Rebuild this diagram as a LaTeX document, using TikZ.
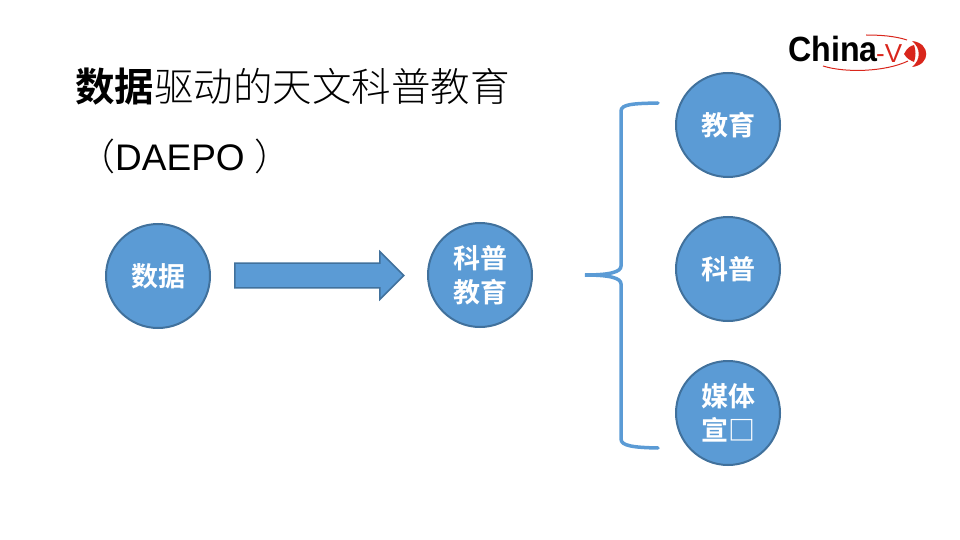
\documentclass[tikz,border=0pt]{standalone}
\usepackage{fontspec}
\usepackage{tikz}
\usetikzlibrary{shapes.arrows, positioning}
\setmainfont{Liberation Sans}
\newfontfamily\cjklight{Noto Sans CJK SC Light}[BoldFont={Noto Sans CJK SC Bold}]
\newfontfamily\cjkbold{Noto Sans CJK SC Bold}
\definecolor{boxblue}{HTML}{5B9BD5}
\definecolor{boxedge}{HTML}{41719C}
\definecolor{logored}{HTML}{D9261C}
\tikzset {
    topic/.style = {
        draw = boxedge,
        fill = boxblue,
        shape = circle,
        line width=2pt,
        minimum size=104pt,
        inner sep=0pt,
        align=center,
        text=white,
        font={\cjkbold\fontsize{27}{34}\selectfont}
    },
    flow/.style = {
        draw = boxedge,
        fill = boxblue,
        shape = single arrow,
        line width=1.5pt,
        minimum width=47pt,
        minimum height=169pt,
        single arrow head extend=11.5pt,
        single arrow head indent=0pt,
        inner xsep=0pt,
        inner ysep=11.6pt
    },
    bracket/.style = {
        draw = boxblue,
        line width=3.5pt,
        line cap=round
    },
    swoosh/.style = {
        draw = logored,
        line width=1pt
    }
}
\begin{document}
\begin{tikzpicture}[x=1pt, y=-1pt, node distance=144pt, on grid]
    \useasboundingbox (0,0) rectangle (960,540);

    % Heading, two lines
    \node [anchor=west, inner sep=0pt, font={\cjklight\fontsize{39.5}{44}\selectfont}]
        at (75,87) (heading) {\textbf{数据}驱动的天文科普教育};
    \node [anchor=west, inner sep=0pt, font={\fontsize{37}{40}\selectfont}]
        at (78,156) (daepo) {{\cjklight （}DAEPO\hspace{10pt}{\cjklight ）}};

    % Left row : data, arrow, outreach
    \node [topic] at (158,276)                     (data)     {数据};
    \node [flow, anchor=west] at (234,275.5)       (arrow)    {};
    \node [topic] at (480,275)                     (outreach) {科普\\教育};

    % Right column
    \node [topic] at (728,125)                     (edu)      {教育};
    \node [topic, below=of edu]                    (popsci)   {科普};
    \node [topic, below=of popsci]                 (media)    {媒体\\宣□};

    % Brace ends and tip
    \coordinate (bracetop)    at (658,103);
    \coordinate (bracebottom) at (658,448);
    \coordinate (bracetip)    at (585,275);

    \draw [bracket] (bracetop)
        .. controls (634,103.5) and (621,104) .. (621,111)
        -- (621,266)
        .. controls (621,272) and (610,275) .. (bracetip)
        .. controls (610,275) and (621,278) .. (621,284)
        -- (621,439)
        .. controls (621,446) and (634,447.5) .. (bracebottom);

    % Logo at the top right
    \node [anchor=base west, inner sep=0pt, xscale=0.92, font={\bfseries\fontsize{35}{36}\selectfont}]
        at (788,62) (logotext) {China};
    \node [anchor=base west, inner sep=0pt, text=logored, font={\fontsize{26}{28}\selectfont}]
        at (876,63) (logov) {-V};
    \draw [swoosh] (823,66) .. controls (845,73) and (885,72) .. (908,61);
    \draw [swoosh] (866,35) .. controls (880,35) and (895,36) .. (907,40);
    \fill [logored] (912,41) .. controls (931,43) and (931,65) .. (912,67)
        .. controls (921,60) and (921,48) .. (912,41);
    \fill [logored] (904,54) .. controls (907,48) and (910,46) .. (914,45)
        .. controls (916,50) and (916,57) .. (914,62)
        .. controls (910,60) and (907,59) .. (904,54);
\end{tikzpicture}
\end{document}
